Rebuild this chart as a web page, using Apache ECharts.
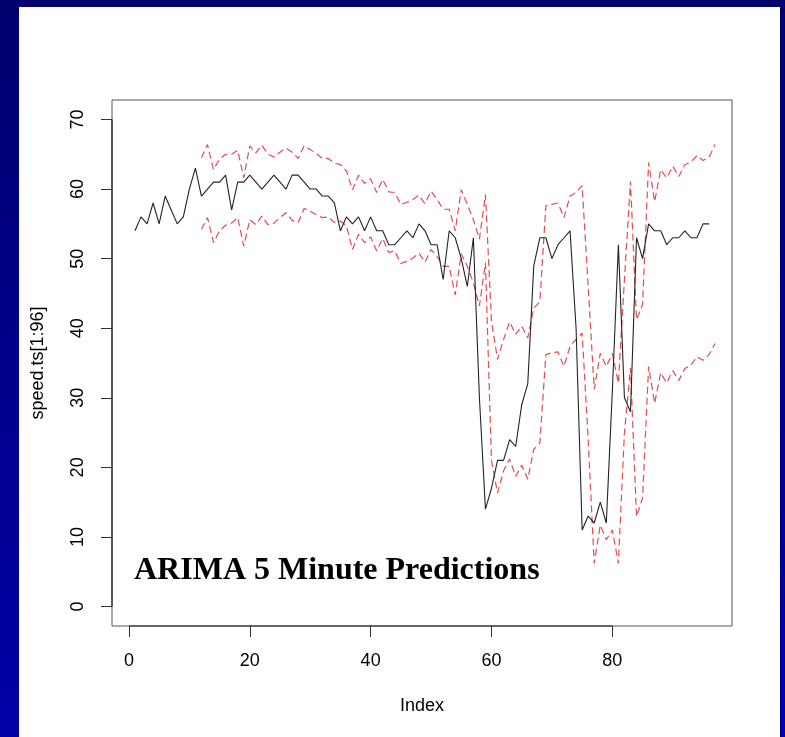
<!DOCTYPE html>
<html>
<head>
<meta charset="utf-8">
<script src="https://cdn.jsdelivr.net/npm/echarts@6/dist/echarts.min.js"></script>
<style>
  html, body { margin: 0; padding: 0; width: 785px; height: 737px; overflow: hidden; }
  body { background: linear-gradient(to bottom, #00006e 0%, #00008c 50%, #0000a6 100%); position: relative; }
  #chart { position: absolute; left: 19px; top: 7px; width: 761px; height: 730px; background: #ffffff; }
</style>
</head>
<body>
<div id="chart"></div>
<script>
// Observed series speed.ts[1:96], index 1..96
const speedStart = 1;
const speed = [
  54, 56, 55, 58, 55, 59, 57, 55, 56, 60,
  63, 59, 60, 61, 61, 62, 57, 61, 61, 62,
  61, 60, 61, 62, 61, 60, 62, 62, 61, 60,
  60, 59, 59, 58, 54, 56, 55, 56, 54, 56,
  54, 54, 52, 52, 53, 54, 53, 55, 54, 52,
  52, 47, 54, 53, 50, 46, 53, 30, 14, 17,
  21, 21, 24, 23, 29, 32, 49, 53, 53, 50,
  52, 53, 54, 40, 11, 13, 12, 15, 12, 31,
  52, 30, 28, 53, 50, 55, 54, 54, 52, 53,
  53, 54, 53, 53, 55, 55
];
// Prediction bounds, index 12..97
const boundStart = 12;
const upper = [
  64.5, 66.4, 62.8, 64.3, 65.0, 65.0, 65.6, 61.6, 66.2,
  65.2, 66.3, 65.0, 64.6, 65.3, 65.9, 65.3, 64.4, 66.2, 65.7,
  65.1, 64.4, 64.4, 63.7, 63.5, 62.6, 59.9, 62.0, 60.8, 61.5,
  59.5, 61.4, 59.6, 59.5, 57.8, 58.1, 58.5, 59.1, 57.9, 59.7,
  58.5, 57.1, 57.1, 54.0, 59.9, 57.8, 55.6, 52.8, 59.2, 41.0,
  35.5, 38.4, 40.9, 39.1, 40.3, 38.6, 42.9, 43.8, 57.6, 57.8,
  58.0, 55.9, 59.0, 59.5, 60.5, 46.0, 31.2, 36.4, 34.5, 36.4,
  32.1, 47.0, 61.1, 41.2, 43.4, 63.8, 58.2, 62.8, 61.6, 63.3,
  61.8, 63.5, 63.9, 64.8, 64.1, 64.6, 66.4
];
const lower = [
  54.2, 55.9, 52.3, 54.0, 54.8, 55.1, 55.9, 51.8, 55.6,
  54.9, 56.1, 54.9, 55.1, 55.9, 56.6, 55.5, 55.2, 57.2, 56.8,
  56.3, 55.9, 56.0, 55.2, 55.4, 54.7, 51.3, 53.5, 52.3, 53.1,
  51.1, 52.9, 50.9, 51.1, 49.3, 49.6, 50.1, 50.8, 49.5, 51.3,
  50.3, 48.9, 48.9, 44.8, 50.7, 48.9, 46.5, 43.2, 49.4, 21.0,
  16.3, 19.5, 21.2, 18.7, 20.3, 18.3, 22.6, 23.5, 36.2, 36.5,
  36.6, 34.5, 37.4, 38.4, 39.3, 24.0, 6.2, 11.7, 9.6, 11.0,
  6.2, 25.0, 34.3, 12.9, 15.6, 34.5, 29.2, 33.6, 32.1, 33.9,
  32.5, 34.2, 34.7, 35.9, 35.4, 36.2, 37.8
];
const xTicks = [0, 20, 40, 60, 80];
const yTicks = [0, 10, 20, 30, 40, 50, 60, 70];
const titleText = 'ARIMA 5 Minute Predictions';
const xName = 'Index';
const yName = 'speed.ts[1:96]';

const toPairs = (arr, start) => arr.map((v, k) => [start + k, v]);

const chart = echarts.init(document.getElementById('chart'), null, { renderer: 'canvas' });
const axisFont = { fontFamily: 'Liberation Sans, Arial, sans-serif', fontSize: 18, color: '#000' };

const option = {
  backgroundColor: '#ffffff',
  animation: false,
  grid: { left: 93, top: 93, width: 620, height: 526, show: true, borderColor: '#555', borderWidth: 1, backgroundColor: 'transparent' },
  xAxis: {
    type: 'value', min: -2.8, max: 99.8,
    axisLine: { show: false, onZero: false },
    splitLine: { show: false },
    axisTick: { show: true, inside: false, customValues: xTicks, length: 11, lineStyle: { color: '#333', width: 1 } },
    axisLabel: Object.assign({ customValues: xTicks, margin: 35, verticalAlign: 'middle' }, axisFont),
    name: xName, nameLocation: 'middle', nameGap: 80,
    nameTextStyle: Object.assign({ verticalAlign: 'middle' }, axisFont)
  },
  yAxis: {
    type: 'value', min: -2.8, max: 72.8,
    axisLine: { show: false, onZero: false },
    splitLine: { show: false },
    axisTick: { show: true, inside: false, customValues: yTicks, length: 11, lineStyle: { color: '#333', width: 1 } },
    axisLabel: Object.assign({ customValues: yTicks, margin: 34, rotate: 90, align: 'center', verticalAlign: 'middle' }, axisFont),
    name: yName, nameLocation: 'middle', nameGap: 74, nameRotate: 90,
    nameTextStyle: Object.assign({ verticalAlign: 'middle', align: 'center' }, axisFont)
  },
  series: [
    { type: 'line', data: toPairs(upper, boundStart), showSymbol: false, symbol: 'none',
      lineStyle: { color: '#e03a3a', width: 1.2, type: [7, 4], opacity: 0.9 }, z: 2 },
    { type: 'line', data: toPairs(lower, boundStart), showSymbol: false, symbol: 'none',
      lineStyle: { color: '#e03a3a', width: 1.2, type: [7, 4], opacity: 0.9 }, z: 2 },
    { type: 'line', data: toPairs(speed, speedStart), showSymbol: false, symbol: 'none',
      lineStyle: { color: '#222', width: 1.1 }, z: 3 }
  ]
};
chart.setOption(option);

// R-style axis lines spanning first to last tick, plus the overlaid title
const p0 = chart.convertToPixel({ gridIndex: 0 }, [xTicks[0], -2.8]);
const p1 = chart.convertToPixel({ gridIndex: 0 }, [xTicks[xTicks.length - 1], -2.8]);
const q0 = chart.convertToPixel({ gridIndex: 0 }, [-2.8, yTicks[0]]);
const q1 = chart.convertToPixel({ gridIndex: 0 }, [-2.8, yTicks[yTicks.length - 1]]);
chart.setOption({
  graphic: [
    { type: 'line', shape: { x1: p0[0], y1: p0[1], x2: p1[0], y2: p1[1] }, style: { stroke: '#222', lineWidth: 1.2 }, z: 10 },
    { type: 'line', shape: { x1: q0[0], y1: q0[1], x2: q1[0], y2: q1[1] }, style: { stroke: '#222', lineWidth: 1.2 }, z: 10 },
    { type: 'text', x: 115, y: 564, z: 10,
      style: { text: titleText, font: 'bold 32px "Liberation Serif", "Times New Roman", serif', fill: '#000', textVerticalAlign: 'middle', textAlign: 'left' } }
  ]
});
</script>
</body>
</html>
